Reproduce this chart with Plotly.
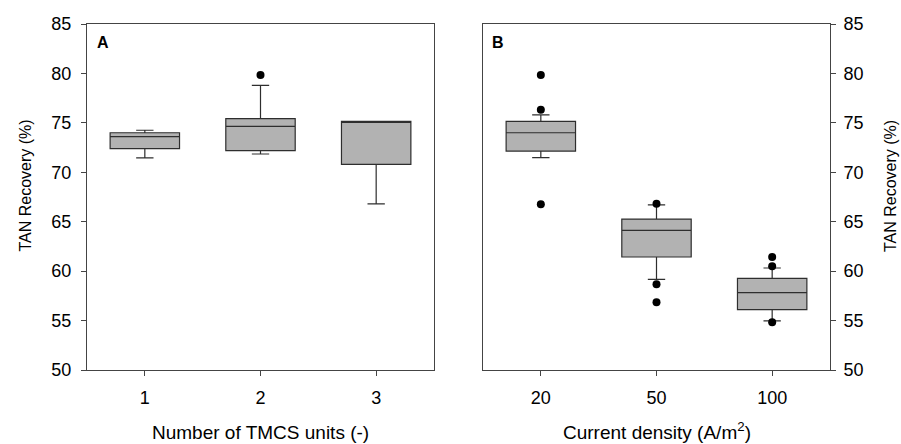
import plotly.graph_objects as go

# ---- Data ----
units_labels = ["1", "2", "3"]
units_q1 = [72.4, 72.2, 70.8]
units_median = [73.6, 74.65, 75.15]
units_q3 = [74.0, 75.42, 75.15]
units_low = [71.45, 71.85, 66.8]
units_high = [74.25, 78.8, 75.15]
units_out_idx = [2]
units_out_val = [79.84]

cd_labels = ["20", "50", "100"]
cd_q1 = [72.15, 61.43, 56.1]
cd_median = [74.0, 64.13, 57.82]
cd_q3 = [75.15, 65.27, 59.27]
cd_low = [71.48, 59.17, 54.96]
cd_high = [75.8, 66.7, 60.32]
cd_out_idx = [1, 1, 1, 2, 2, 2, 3, 3, 3]
cd_out_val = [79.84, 76.33, 66.76, 66.82, 58.67, 56.85, 61.43, 60.5, 54.83]

positions = [1, 2, 3]

FONT = "Liberation Sans, Arial, sans-serif"
FILL = "#b2b2b2"
LINE = "#2e2e2e"
AXC = "#444444"

fig = go.Figure()

fig.add_trace(go.Box(
    x=positions, q1=units_q1, median=units_median, q3=units_q3,
    lowerfence=units_low, upperfence=units_high,
    width=0.6, whiskerwidth=0.25, fillcolor=FILL,
    line=dict(color=LINE, width=1.2), boxpoints=False,
    xaxis="x", yaxis="y", showlegend=False, hoverinfo="skip"))
fig.add_trace(go.Scatter(
    x=units_out_idx, y=units_out_val, mode="markers",
    marker=dict(color="black", size=8), xaxis="x", yaxis="y",
    showlegend=False))

fig.add_trace(go.Box(
    x=positions, q1=cd_q1, median=cd_median, q3=cd_q3,
    lowerfence=cd_low, upperfence=cd_high,
    width=0.6, whiskerwidth=0.25, fillcolor=FILL,
    line=dict(color=LINE, width=1.2), boxpoints=False,
    xaxis="x2", yaxis="y2", showlegend=False, hoverinfo="skip"))
fig.add_trace(go.Scatter(
    x=cd_out_idx, y=cd_out_val, mode="markers",
    marker=dict(color="black", size=8), xaxis="x2", yaxis="y2",
    showlegend=False))

W, H = 901, 444
L, R, T, B = 87, 71, 24, 74
pw = W - L - R
a_end = (434 - L) / pw
b_start = (483 - L) / pw

common_x = dict(range=[0.5, 3.5], tickvals=positions, ticks="outside",
                ticklen=5, tickcolor=AXC, showline=True, linecolor=AXC,
                linewidth=1, mirror=True, showgrid=False, zeroline=False,
                tickfont=dict(family=FONT, size=18, color="black"),
                ticklabelstandoff=6)
common_y = dict(range=[50, 85], dtick=5, tick0=50, ticks="outside",
                ticklen=5, tickcolor=AXC, showline=True, linecolor=AXC,
                linewidth=1, mirror=True, showgrid=False, zeroline=False,
                tickfont=dict(family=FONT, size=18, color="black"))

fig.update_layout(
    width=W, height=H,
    margin=dict(l=L, r=R, t=T, b=B),
    paper_bgcolor="white", plot_bgcolor="white",
    font=dict(family=FONT, color="black"),
    xaxis=dict(domain=[0, a_end], anchor="y", ticktext=units_labels, **common_x),
    yaxis=dict(domain=[0, 1], anchor="x", side="left", ticklabelstandoff=6, **common_y),
    xaxis2=dict(domain=[b_start, 1], anchor="y2", ticktext=cd_labels, **common_x),
    yaxis2=dict(domain=[0, 1], anchor="x2", side="right", ticklabelstandoff=4, **common_y),
)

def px_x(px):
    return (px - L) / pw

def px_y(py):
    return (H - B - py) / (H - T - B)

ann = [
    dict(text="<b>A</b>", x=px_x(95), y=px_y(42.5), xanchor="left", yanchor="middle",
         font=dict(size=16)),
    dict(text="<b>B</b>", x=px_x(490), y=px_y(42.5), xanchor="left", yanchor="middle",
         font=dict(size=16)),
    dict(text="TAN Recovery (%)", x=px_x(24.5), y=px_y(186), textangle=-90,
         xanchor="center", yanchor="middle", font=dict(size=16)),
    dict(text="TAN Recovery (%)", x=px_x(890), y=px_y(186), textangle=-90,
         xanchor="center", yanchor="middle", font=dict(size=16)),
    dict(text="Number of TMCS units (-)", x=a_end / 2, y=px_y(432),
         xanchor="center", yanchor="middle", font=dict(size=19)),
    dict(text="Current density (A/m<sup>2</sup>)", x=(b_start + 1) / 2, y=px_y(431),
         xanchor="center", yanchor="middle", font=dict(size=19)),
]
for a in ann:
    a.update(xref="paper", yref="paper", showarrow=False)
    a["font"].update(family=FONT, color="black")
fig.update_layout(annotations=ann)

fig.write_html(
    "out.html",
    config={"displayModeBar": False},
    post_script="document.body.style.margin='0px';document.body.style.overflow='hidden';",
)
